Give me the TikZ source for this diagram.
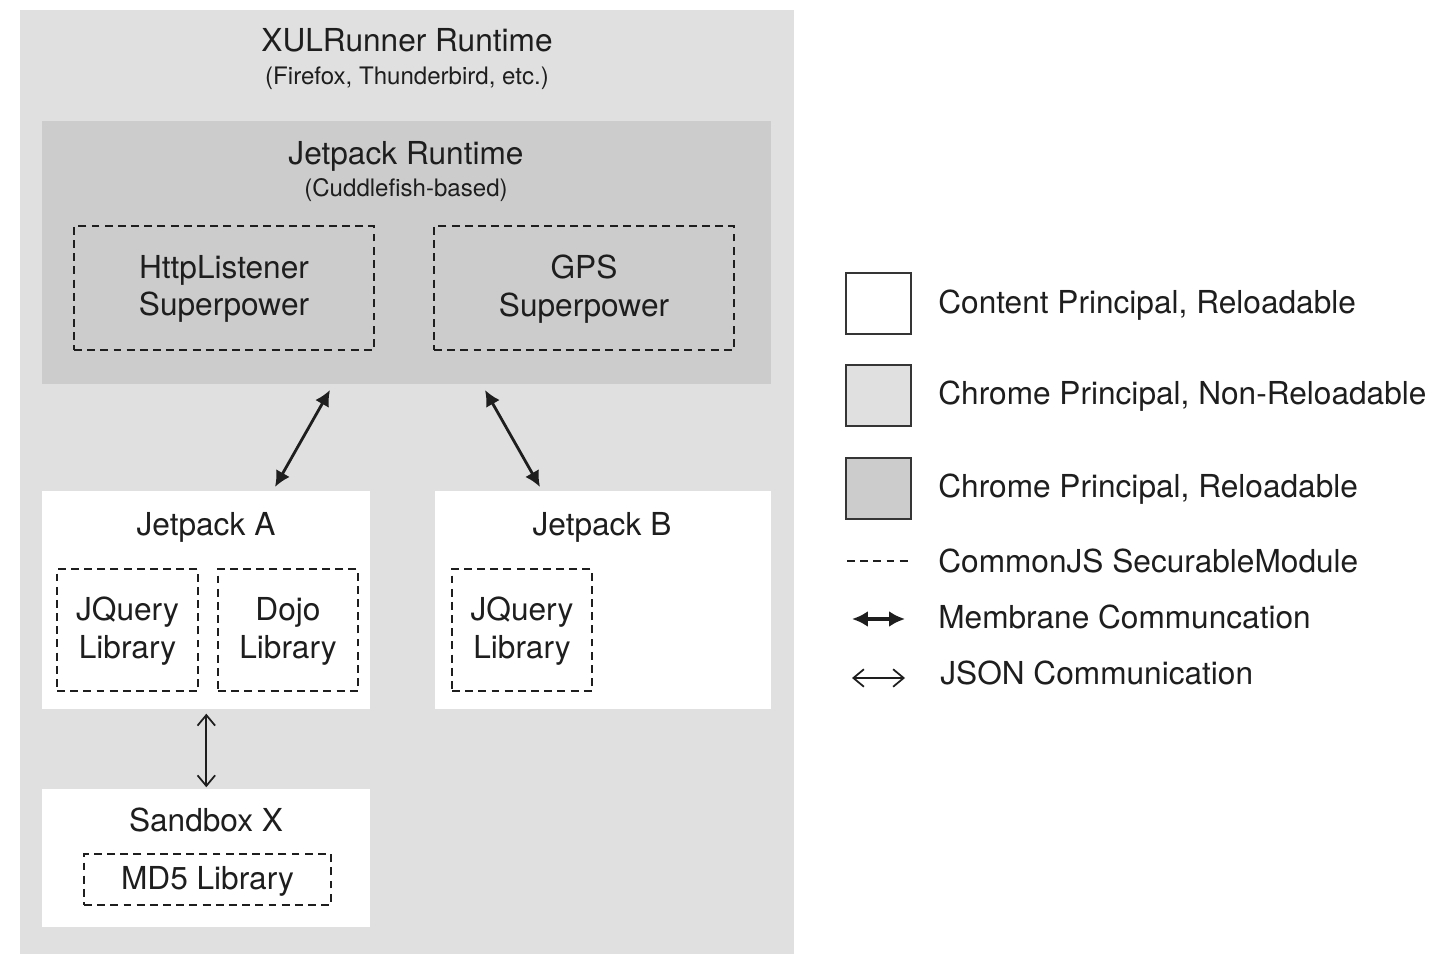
\documentclass[tikz,border=0pt]{standalone}
\usepackage{fontspec}
\setmainfont{TeX Gyre Heros}
\usetikzlibrary{arrows.meta}
\definecolor{chromelight}{RGB}{224,224,224}
\definecolor{chromedark}{RGB}{204,204,204}
\definecolor{inkgray}{RGB}{30,30,30}
\begin{document}
\begin{tikzpicture}
	[x=0.02cm,y=-0.02cm,%
	  every node/.style={font=\fontsize{18}{21.6}\selectfont,inner sep=0pt,text=inkgray},
	  area/.style={rectangle,anchor=north west,draw=none},
	  title/.style={anchor=mid,yshift=-0.13cm},
	  subtitle/.style={anchor=mid,yshift=-0.08cm,font=\fontsize{13.7}{16}\selectfont},
	  module/.style={rectangle,draw=inkgray,dash pattern=on 4.5pt off 3pt,line width=0.8pt,align=center,text depth=0.1cm},
	  swatch/.style={rectangle,anchor=north west,draw=inkgray!90,line width=1.2pt,minimum width=1.3cm,minimum height=1.22cm},
	  legend/.style={anchor=mid west,yshift=-0.13cm},
	  membrane/.style={{Latex[length=9pt,width=9pt]}-{Latex[length=9pt,width=9pt]},line width=1.6pt,draw=inkgray},
	  json/.style={{Straight Barb[length=6pt,width=10pt]}-{Straight Barb[length=6pt,width=10pt]},line width=1pt,draw=inkgray}]
	\useasboundingbox (0,0) rectangle (1437,979);

	\node[area,fill=chromelight,minimum width=15.48cm,minimum height=18.88cm] (xul) at (20,10) {};
	\node[title] (xultitle) at (407,40) {XULRunner Runtime};
	\node[subtitle] (xulsub) at (407,76) {(Firefox, Thunderbird, etc.)};

	\node[area,fill=chromedark,minimum width=14.58cm,minimum height=5.26cm] (jpr) at (42,121) {};
	\node[title] (jprtitle) at (406,153) {Jetpack Runtime};
	\node[subtitle] (jprsub) at (406,188) {(Cuddlefish-based)};
	\node[module,minimum width=6cm,minimum height=2.48cm] (http) at (224,288) {HttpListener\\Superpower};
	\node[module,minimum width=6cm,minimum height=2.48cm] (gps) at (584,288) {GPS\\Superpower};

	\node[area,fill=white,minimum width=6.56cm,minimum height=4.36cm] (jpa) at (42,491) {};
	\node[title] (jpatitle) at (206,524) {Jetpack A};
	\node[module,minimum width=2.82cm,minimum height=2.44cm] (jqa) at (127.5,630) {JQuery\\Library};
	\node[module,minimum width=2.8cm,minimum height=2.44cm] (dojo) at (288,630) {Dojo\\Library};

	\node[area,fill=white,minimum width=6.72cm,minimum height=4.36cm] (jpb) at (435,491) {};
	\node[title] (jpbtitle) at (602,524) {Jetpack B};
	\node[module,minimum width=2.8cm,minimum height=2.44cm] (jqb) at (522,630) {JQuery\\Library};

	\node[area,fill=white,minimum width=6.56cm,minimum height=2.76cm] (sbx) at (42,789) {};
	\node[title] (sbxtitle) at (206,820) {Sandbox X};
	\node[module,minimum width=4.94cm,minimum height=1.02cm,text depth=0.05cm] (md5) at (207.5,879.5) {MD5 Library};

	% connectors
	\coordinate (jprleft) at (330,390);
	\coordinate (jpaend) at (275,487);
	\coordinate (jprright) at (485,390);
	\coordinate (jpbend) at (540,487);
	\draw[membrane] (jprleft) -- (jpaend);
	\draw[membrane] (jprright) -- (jpbend);
	\draw[json,shorten <=2.3pt,shorten >=1pt] (jpa.south) -- (sbx.north);

	% legend
	\node[swatch,fill=white] (keycontent) at (845,272) {};
	\node[swatch,fill=chromelight] (keychrome) at (845,364) {};
	\node[swatch,fill=chromedark] (keyreload) at (845,457) {};
	\node[legend] (txtcontent) at (938,302) {Content Principal, Reloadable};
	\node[legend] (txtchrome) at (938,393) {Chrome Principal, Non-Reloadable};
	\node[legend] (txtreload) at (938,486) {Chrome Principal, Reloadable};
	\node[legend] (txtmodule) at (938,561) {CommonJS SecurableModule};
	\node[legend] (txtmembrane) at (938,617) {Membrane Communcation};
	\node[legend] (txtjson) at (940,673) {JSON Communication};
	\coordinate (dashfrom) at (847,561);
	\coordinate (dashto) at (912,561);
	\coordinate (memfrom) at (852,619);
	\coordinate (memto) at (905,619);
	\coordinate (jsonfrom) at (852,678);
	\coordinate (jsonto) at (905,678);
	\draw[draw=inkgray,dash pattern=on 4.5pt off 3pt,line width=0.8pt] (dashfrom) -- (dashto);
	\draw[membrane,line width=2.2pt] (memfrom) -- (memto);
	\draw[json] (jsonfrom) -- (jsonto);
\end{tikzpicture}
\end{document}
